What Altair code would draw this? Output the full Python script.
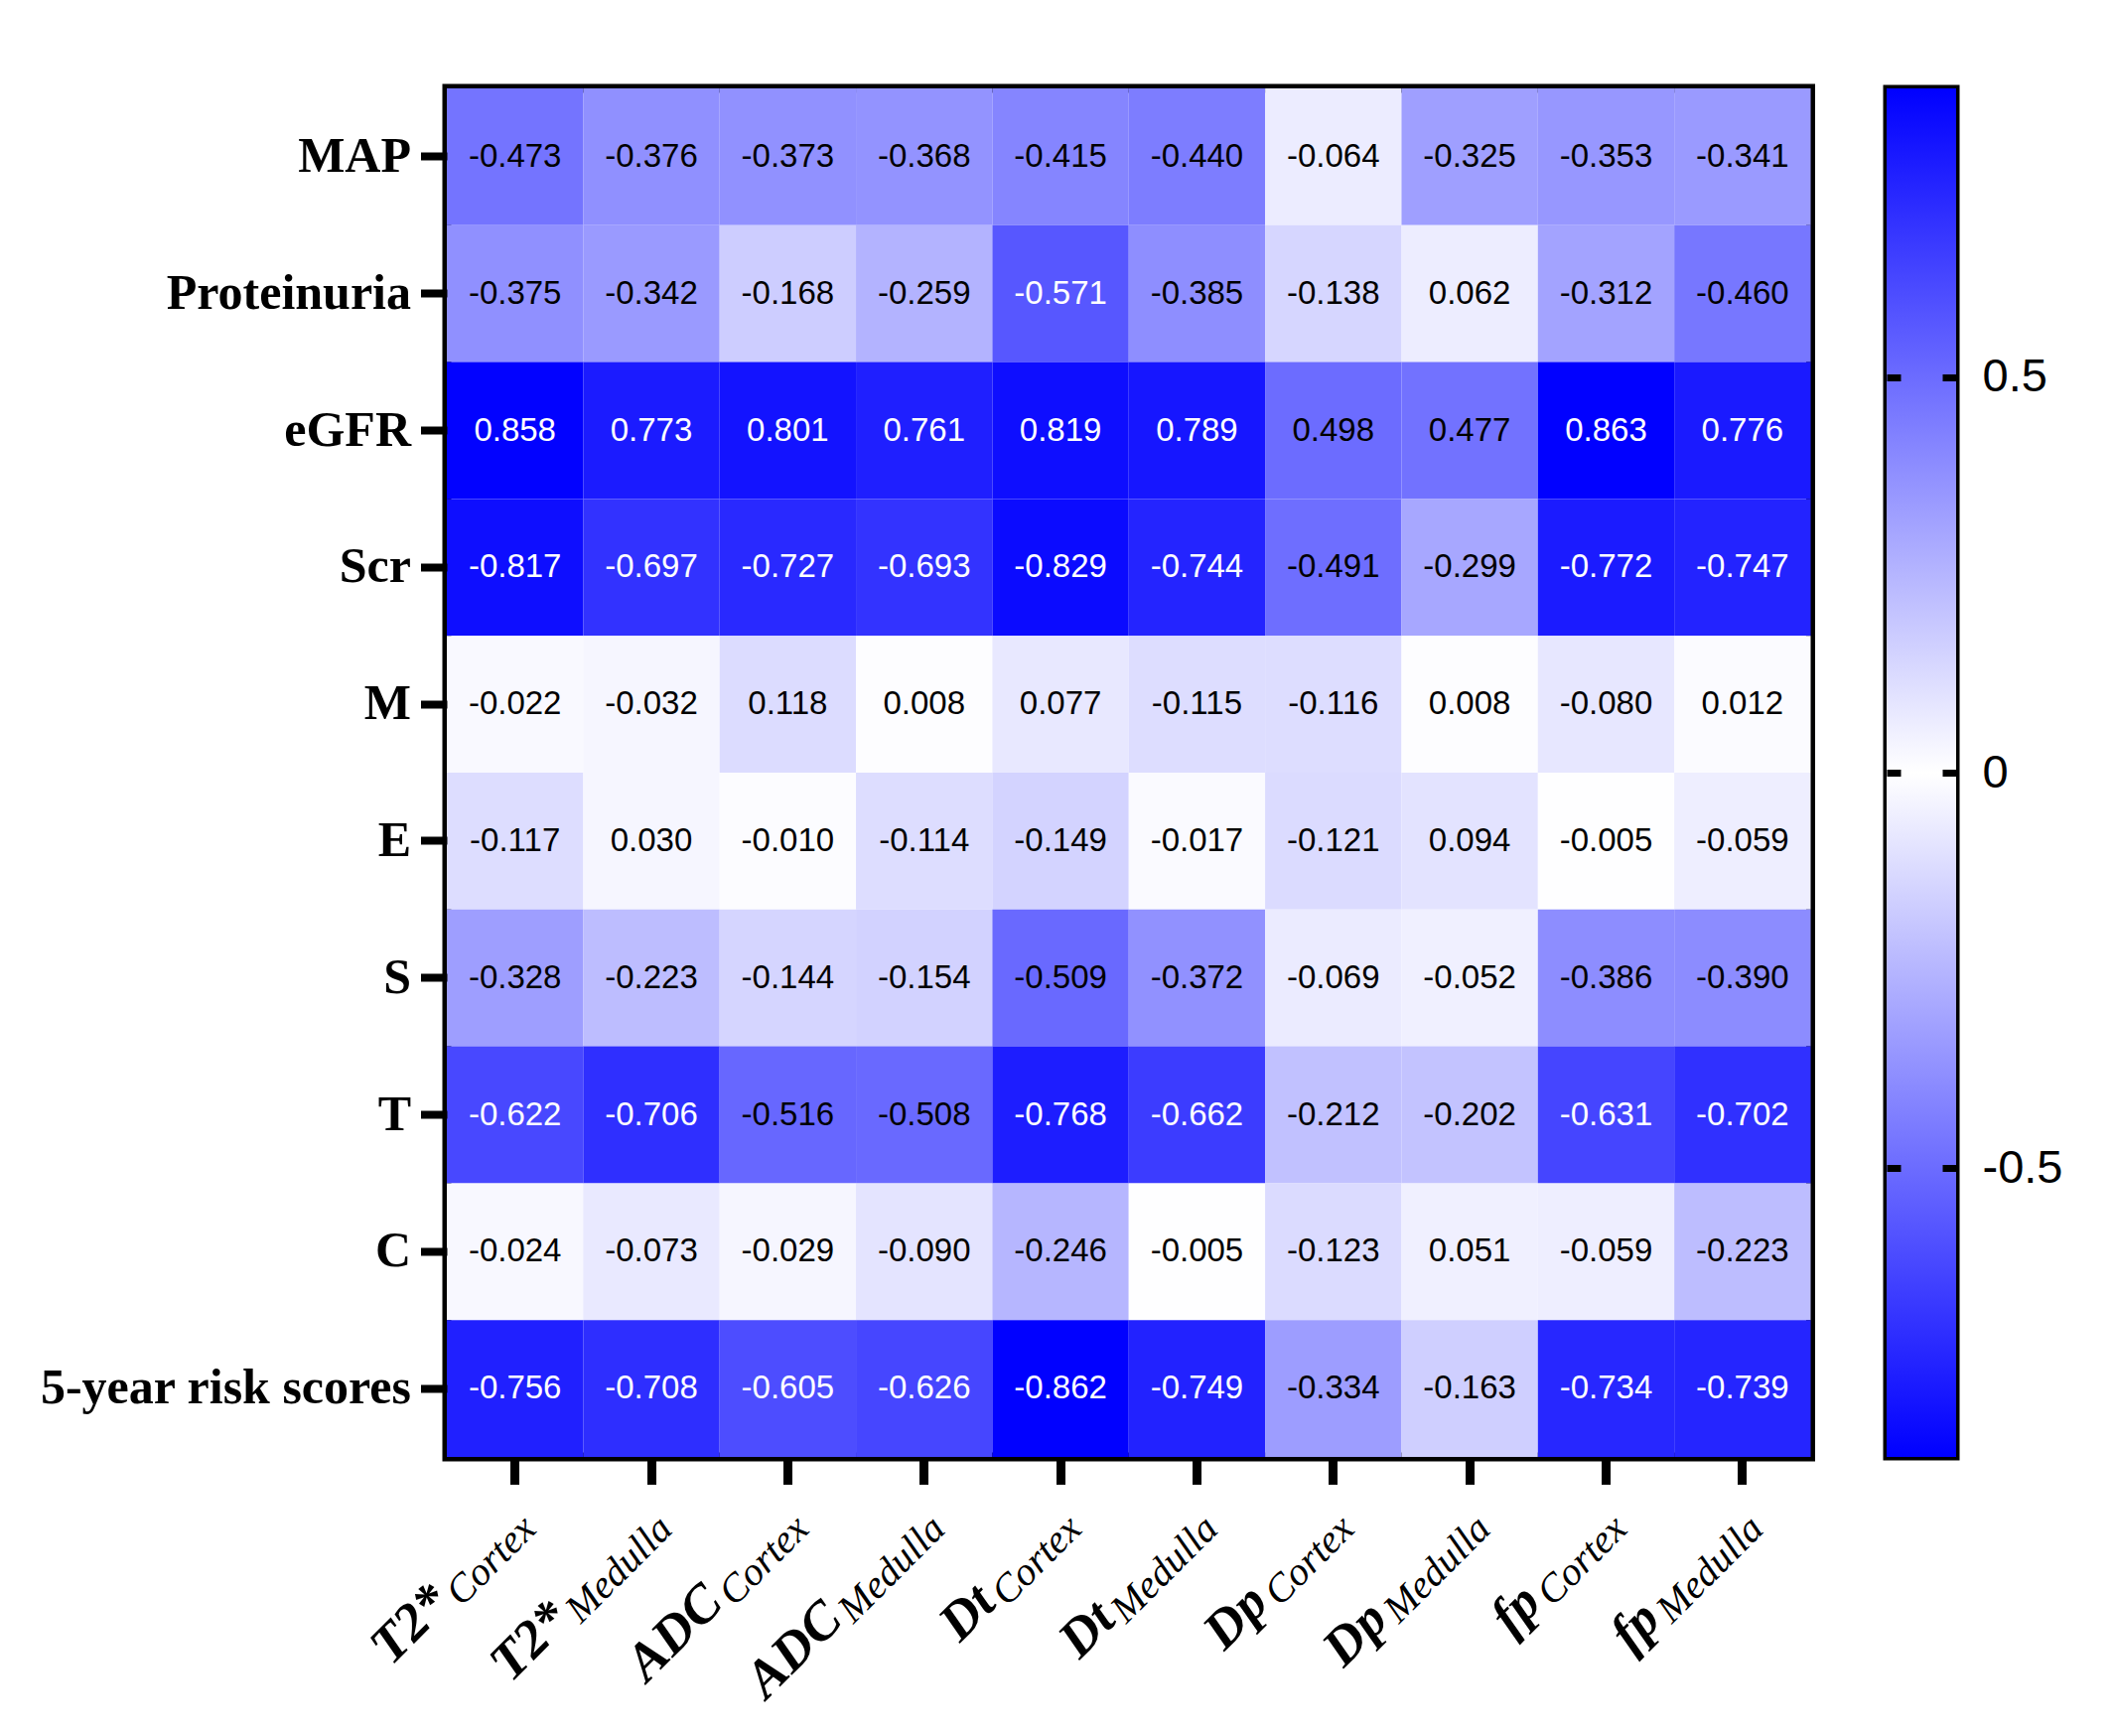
import altair as alt
import pandas as pd

rows = ["MAP", "Proteinuria", "eGFR", "Scr", "M", "E", "S", "T", "C", "5-year risk scores"]
col_main = ["T2*", "T2*", "ADC", "ADC", "Dt", "Dt", "Dp", "Dp", "fp", "fp"]
col_sub = ["Cortex", "Medulla", "Cortex", "Medulla", "Cortex", "Medulla", "Cortex", "Medulla", "Cortex", "Medulla"]

v_map = [-0.473, -0.376, -0.373, -0.368, -0.415, -0.440, -0.064, -0.325, -0.353, -0.341]
v_prot = [-0.375, -0.342, -0.168, -0.259, -0.571, -0.385, -0.138, 0.062, -0.312, -0.460]
v_egfr = [0.858, 0.773, 0.801, 0.761, 0.819, 0.789, 0.498, 0.477, 0.863, 0.776]
v_scr = [-0.817, -0.697, -0.727, -0.693, -0.829, -0.744, -0.491, -0.299, -0.772, -0.747]
v_m = [-0.022, -0.032, 0.118, 0.008, 0.077, -0.115, -0.116, 0.008, -0.080, 0.012]
v_e = [-0.117, 0.030, -0.010, -0.114, -0.149, -0.017, -0.121, 0.094, -0.005, -0.059]
v_s = [-0.328, -0.223, -0.144, -0.154, -0.509, -0.372, -0.069, -0.052, -0.386, -0.390]
v_t = [-0.622, -0.706, -0.516, -0.508, -0.768, -0.662, -0.212, -0.202, -0.631, -0.702]
v_c = [-0.024, -0.073, -0.029, -0.090, -0.246, -0.005, -0.123, 0.051, -0.059, -0.223]
v_risk = [-0.756, -0.708, -0.605, -0.626, -0.862, -0.749, -0.334, -0.163, -0.734, -0.739]

matrix = [v_map, v_prot, v_egfr, v_scr, v_m, v_e, v_s, v_t, v_c, v_risk]
col_keys = [f"{m} {s}" for m, s in zip(col_main, col_sub)]

cb_ticks = [-0.5, 0, 0.5]
D = 0.865

records = []
for r, vals in zip(rows, matrix):
    for k, v in zip(col_keys, vals):
        records.append({"row": r, "col": k, "v": v, "lab": f"{v:.3f}"})
df = pd.DataFrame(records)
cols_df = pd.DataFrame({"col": col_keys, "main": col_main, "sub": col_sub})

W, H = 1373.5, 1378

x_enc = alt.X("col:N", sort=col_keys, title=None,
              axis=alt.Axis(labels=False, domain=False, grid=False, tickSize=27.5, tickWidth=9,
                            tickColor="black"))
y_enc = alt.Y("row:N", sort=rows, title=None,
              axis=alt.Axis(domain=False, grid=False, tickSize=26.5, tickWidth=8, tickColor="black",
                            labelFont="Liberation Serif", labelFontWeight="bold",
                            labelFontSize=50, labelColor="black", labelPadding=10,
                            labelLimit=0))

base = alt.Chart(df)
rects = base.mark_rect().encode(
    x=x_enc, y=y_enc,
    color=alt.Color("v:Q", legend=None,
                    scale=alt.Scale(domain=[-D, 0, D], range=["#0000ff", "#ffffff", "#0000ff"],
                                    interpolate="rgb")),
)
texts = base.mark_text(font="Liberation Sans", fontSize=33).encode(
    x=alt.X("col:N", sort=col_keys),
    y=alt.Y("row:N", sort=rows),
    text="lab:N",
    color=alt.condition("abs(datum.v) > 0.55", alt.value("white"), alt.value("black")),
)

LY = H + 109
dx0 = 40.7
sub_lab = alt.Chart(cols_df).mark_text(
    font="Liberation Serif", fontStyle="italic", fontSize=40, angle=315,
    align="right", baseline="alphabetic", dx=dx0, dy=-8, color="black"
).encode(x=alt.X("col:N", sort=col_keys), y=alt.value(LY), text="sub:N")

main_c = alt.Chart(cols_df).transform_filter("datum.sub == 'Cortex'").mark_text(
    font="Liberation Serif", fontStyle="italic", fontWeight="bold", fontSize=54, angle=315,
    align="right", baseline="alphabetic", dx=dx0 - 109 - 5, dy=-16, color="black"
).encode(x=alt.X("col:N", sort=col_keys), y=alt.value(LY), text="main:N")

main_m = alt.Chart(cols_df).transform_filter("datum.sub == 'Medulla'").mark_text(
    font="Liberation Serif", fontStyle="italic", fontWeight="bold", fontSize=54, angle=315,
    align="right", baseline="alphabetic", dx=dx0 - 133 - 5, dy=-16, color="black"
).encode(x=alt.X("col:N", sort=col_keys), y=alt.value(LY), text="main:N")

heat = alt.layer(rects, texts, sub_lab, main_c, main_m).properties(
    width=W, height=H,
    view=alt.ViewBackground(stroke="black", strokeWidth=9),
)

cb_df = pd.DataFrame({"lo": [-D], "hi": [D], "xl": [0.0], "xr": [1.0]})
grad = alt.Gradient(
    gradient="linear", x1=0, x2=0, y1=0, y2=1,
    stops=[alt.GradientStop(offset=0, color="#0000ff"),
           alt.GradientStop(offset=0.5, color="#ffffff"),
           alt.GradientStop(offset=1, color="#0000ff")],
)
cb_scale = alt.Scale(domain=[-D, D], nice=False, zero=False)
cb_x = alt.X("xl:Q", scale=alt.Scale(domain=[0, 1], nice=False), axis=None)
cb_left = alt.Chart(cb_df).mark_rect(fill=grad).encode(
    x=cb_x, x2="xr:Q",
    y=alt.Y("lo:Q", scale=cb_scale, title=None,
            axis=alt.Axis(orient="left", values=cb_ticks, labels=False, domain=False, grid=False,
                          offset=-14, tickSize=14, tickWidth=7, tickColor="black", zindex=1)),
    y2="hi:Q",
)
cb_right = alt.Chart(cb_df).mark_rect(fill=grad).encode(
    x=cb_x, x2="xr:Q",
    y=alt.Y("lo:Q", scale=cb_scale, title=None,
            axis=alt.Axis(orient="right", values=cb_ticks, domain=False, grid=False,
                          offset=-14, tickSize=14, tickWidth=7, tickColor="black", zindex=1,
                          labelFont="Liberation Sans", labelFontSize=47, labelColor="black",
                          labelPadding=26,
                          labelExpr="datum.value == 0 ? '0' : (datum.value < 0 ? '-' : '') + format(abs(datum.value), '.1f')")),
    y2="hi:Q",
)
cbar = alt.layer(cb_left, cb_right).resolve_axis(y="independent").properties(
    width=70, height=H,
    view=alt.ViewBackground(stroke="black", strokeWidth=7),
)

chart = alt.hconcat(heat, cbar, spacing=65).properties(
    padding={"left": 27, "top": 76, "right": 10, "bottom": 10},
    background="white",
)

chart.save("out.html", embed_options={"renderer": "svg", "actions": False})
